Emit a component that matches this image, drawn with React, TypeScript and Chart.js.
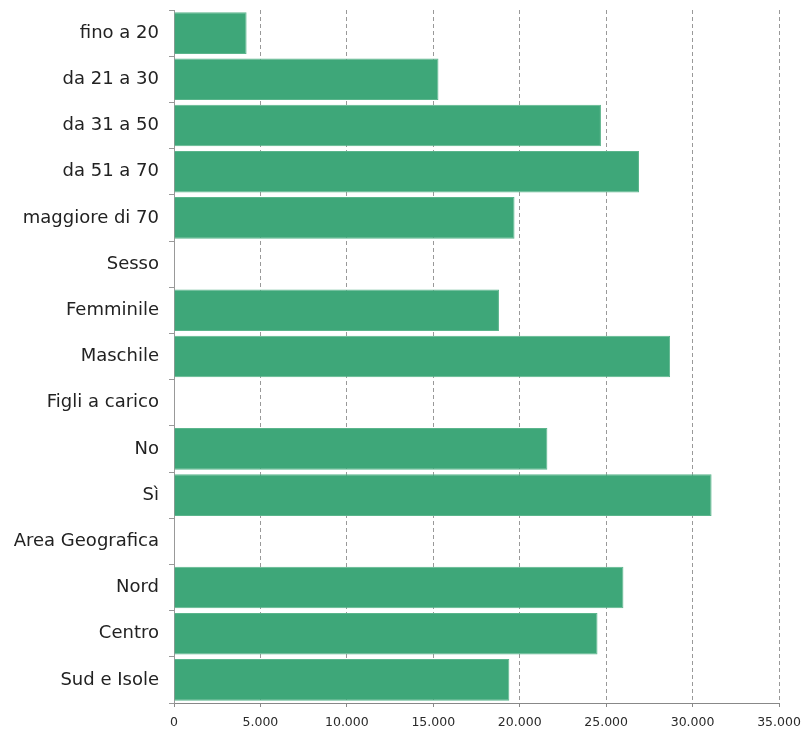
import React, { useEffect, useRef } from "react";
import { Chart, registerables } from "chart.js";

Chart.register(...registerables);

const categories = [
  "fino a 20",
  "da 21 a 30",
  "da 31 a 50",
  "da 51 a 70",
  "maggiore di 70",
  "Sesso",
  "Femminile",
  "Maschile",
  "Figli a carico",
  "No",
  "Sì",
  "Area Geografica",
  "Nord",
  "Centro",
  "Sud e Isole",
];

const values: (number | null)[] = [
  4200, 15300, 24700, 26900, 19700, null, 18800, 28700, null, 21600, 31100, null, 26000, 24500, 19400,
];

const xTicks = [0, 5000, 10000, 15000, 20000, 25000, 30000, 35000];

const fmt = (v: number) => String(Math.round(v)).replace(/\B(?=(\d{3})+(?!\d))/g, ".");

export default function App() {
  const ref = useRef<HTMLCanvasElement | null>(null);
  useEffect(() => {
    if (!ref.current) return;
    const chart = new Chart(ref.current, {
      type: "bar",
      data: {
        labels: categories,
        datasets: [
          {
            data: values,
            backgroundColor: "#3ea779",
            borderColor: "#5bb58c",
            borderWidth: 1,
            barPercentage: 0.9,
            categoryPercentage: 1,
          },
        ],
      },
      options: {
        indexAxis: "y",
        responsive: false,
        animation: false,
        maintainAspectRatio: false,
        layout: { padding: { top: 10, right: 27, left: 0, bottom: 0 } },
        plugins: { legend: { display: false }, tooltip: { enabled: false } },
        scales: {
          x: {
            type: "linear",
            min: 0,
            max: 35000,
            afterBuildTicks: (s: any) => {
              s.ticks = xTicks.map((v) => ({ value: v }));
            },
            afterFit: (s: any) => {
              s.height = 32;
              s.paddingLeft = 0;
              s.paddingRight = 0;
            },
            ticks: {
              stepSize: 5000,
              callback: (v: any) => fmt(Number(v)),
              color: "#2a2a2a",
              font: { family: "DejaVu Sans", size: 12.5 },
              padding: 8,
              maxRotation: 0,
            },
            grid: {
              color: "#999",
              lineWidth: 1,
              tickLength: 4,
              tickColor: "#888",
            },
            border: { display: true, color: "#888", dash: [4, 3] },
          },
          y: {
            type: "category",
            offset: true,
            afterFit: (s: any) => {
              s.width = 174;
              s.paddingTop = 0;
              s.paddingBottom = 0;
            },
            ticks: {
              color: "#222",
              font: { family: "DejaVu Sans", size: 18 },
              padding: 10,
              autoSkip: false,
            },
            grid: {
              offset: true,
              drawOnChartArea: false,
              tickLength: 5,
              color: "#999",
            },
            border: { display: true, color: "#999" },
          },
        },
      },
    });
    return () => chart.destroy();
  }, []);
  return (
    <div style={{ position: "absolute", left: 0, top: 0, width: 806, height: 735, background: "#fff" }}>
      <canvas ref={ref} width={806} height={735} style={{ width: 806, height: 735 }} />
    </div>
  );
}
